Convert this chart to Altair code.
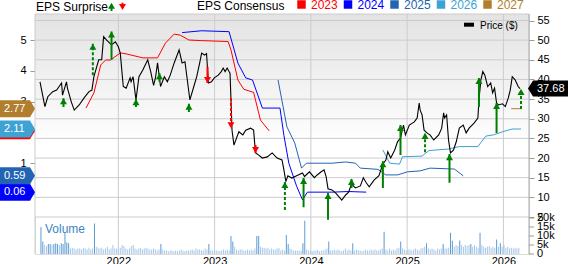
import altair as alt
import pandas as pd

# ---------------- data ----------------
price_points = [
    (2021.186, 39.4), (2021.237, 33.1), (2021.267, 35.6), (2021.318, 36.9), (2021.359, 37.3),
    (2021.410, 39.1), (2021.420, 36.0), (2021.461, 39.4), (2021.471, 37.8), (2021.511, 34.3),
    (2021.542, 32.2), (2021.593, 33.5), (2021.644, 35.3), (2021.695, 36.9), (2021.725, 37.3),
    (2021.746, 40.7), (2021.796, 45.0), (2021.827, 45.0), (2021.847, 50.9), (2021.878, 50.0),
    (2021.908, 49.3), (2021.929, 48.8), (2021.969, 49.6), (2022.000, 48.3), (2022.020, 46.7),
    (2022.051, 38.2), (2022.081, 37.8), (2022.122, 40.4), (2022.132, 39.4), (2022.153, 40.7),
    (2022.183, 34.8), (2022.214, 40.7), (2022.254, 42.4), (2022.305, 45.0), (2022.336, 42.0),
    (2022.366, 38.5), (2022.386, 40.5), (2022.407, 44.2), (2022.438, 38.2), (2022.478, 40.7),
    (2022.509, 39.4), (2022.539, 41.1), (2022.580, 44.2), (2022.631, 47.5), (2022.662, 44.2),
    (2022.692, 44.5), (2022.712, 40.7), (2022.743, 34.8), (2022.784, 38.2), (2022.814, 40.7),
    (2022.845, 44.2), (2022.865, 46.7), (2022.896, 46.2), (2022.916, 46.6), (2022.936, 39.1),
    (2022.967, 39.4), (2022.997, 40.4), (2023.038, 41.1), (2023.069, 42.0), (2023.089, 42.9),
    (2023.109, 42.0), (2023.130, 42.9), (2023.150, 42.0), (2023.160, 41.6), (2023.170, 34.8),
    (2023.181, 27.0), (2023.201, 23.3), (2023.232, 25.4), (2023.252, 26.7), (2023.293, 25.9),
    (2023.323, 27.1), (2023.374, 27.6), (2023.405, 27.1), (2023.425, 21.3), (2023.455, 20.8),
    (2023.496, 20.0), (2023.547, 20.3), (2023.598, 21.3), (2023.649, 20.0), (2023.700, 19.5),
    (2023.720, 17.0), (2023.740, 14.0), (2023.761, 15.5), (2023.802, 14.9), (2023.852, 15.5),
    (2023.913, 16.2), (2023.934, 15.3), (2023.985, 16.5), (2024.036, 15.0), (2024.066, 15.7),
    (2024.107, 16.5), (2024.137, 17.0), (2024.158, 15.3), (2024.178, 12.2), (2024.219, 11.9),
    (2024.259, 11.1), (2024.321, 9.3), (2024.361, 10.6), (2024.392, 11.3), (2024.422, 13.4),
    (2024.463, 12.4), (2024.514, 12.9), (2024.545, 15.0), (2024.575, 13.7), (2024.606, 12.7),
    (2024.656, 14.4), (2024.707, 15.5), (2024.748, 18.5), (2024.779, 19.5), (2024.799, 21.6),
    (2024.829, 20.0), (2024.870, 22.0), (2024.901, 24.2), (2024.931, 25.1), (2024.962, 28.4),
    (2024.982, 25.9), (2025.023, 28.4), (2025.074, 29.2), (2025.104, 30.2), (2025.125, 34.0),
    (2025.135, 32.2), (2025.155, 31.0), (2025.176, 27.1), (2025.206, 26.4), (2025.237, 25.9),
    (2025.277, 24.6), (2025.328, 25.9), (2025.359, 27.6), (2025.379, 31.5), (2025.389, 30.2),
    (2025.410, 31.0), (2025.430, 24.6), (2025.450, 21.3), (2025.481, 22.0), (2025.511, 24.2),
    (2025.542, 27.6), (2025.583, 28.4), (2025.613, 26.4), (2025.644, 27.6), (2025.695, 28.9),
    (2025.735, 30.2), (2025.746, 34.8), (2025.766, 39.9), (2025.786, 42.0), (2025.807, 41.1),
    (2025.837, 38.2), (2025.868, 39.1), (2025.888, 36.6), (2025.908, 37.8), (2025.929, 34.0),
    (2025.949, 33.5), (2025.990, 33.8), (2026.020, 33.1), (2026.051, 35.3), (2026.071, 37.3),
    (2026.092, 40.7), (2026.122, 39.9), (2026.153, 38.2), (2026.173, 37.68),
]

eps_2023 = [(2021.664, 2.79), (2021.746, 3.28), (2021.817, 4.19), (2021.868, 4.35), (2021.919, 4.35),
            (2022.020, 4.58), (2022.081, 4.55), (2022.254, 4.42), (2022.407, 4.42), (2022.489, 4.90),
            (2022.580, 5.19), (2022.641, 5.16), (2022.733, 5.00), (2022.865, 4.98), (2023.140, 4.95),
            (2023.170, 4.68), (2023.242, 3.70), (2023.303, 3.40), (2023.405, 3.30), (2023.476, 2.40),
            (2023.567, 2.05)]
eps_2024 = [(2022.662, 5.24), (2022.865, 5.30), (2023.150, 5.27), (2023.242, 4.25), (2023.323, 3.77),
            (2023.394, 3.70), (2023.496, 2.79), (2023.679, 2.79), (2023.720, 1.90), (2023.771, 1.00),
            (2023.852, 0.25), (2023.913, -0.19), (2023.964, 0.06), (2024.219, 0.06), (2024.392, 0.08),
            (2024.575, 0.06)]
eps_2025 = [(2023.659, 3.70), (2023.751, 2.18), (2023.832, 1.66), (2023.903, 0.84), (2023.954, 1.00),
            (2024.219, 1.00), (2024.361, 1.04), (2024.463, 1.00), (2024.514, 0.84), (2024.697, 0.80),
            (2024.779, 0.62), (2024.901, 0.62), (2025.003, 0.72), (2025.135, 0.75), (2025.237, 0.84),
            (2025.491, 0.81), (2025.583, 0.59)]
eps_2026 = [(2024.748, 1.43), (2024.819, 1.00), (2024.921, 0.97), (2024.952, 1.21), (2025.155, 1.23),
            (2025.226, 1.41), (2025.430, 1.46), (2025.542, 1.54), (2025.735, 1.54), (2025.817, 1.88),
            (2025.898, 1.92), (2025.990, 2.02), (2026.092, 2.11), (2026.183, 2.11)]
eps_2027 = [(2026.081, 2.77), (2026.183, 2.77)]

series_names = ["2023", "2024", "2025", "2026", "2027"]
series_colors = ["#ff0000", "#0000ff", "#2264b2", "#3da2d4", "#b07e2d"]

surprise_year = [2021.430, 2021.735, 2021.929, 2022.183, 2022.427, 2022.733, 2022.926, 2023.170,
                 2023.425, 2023.730, 2023.924, 2024.178, 2024.422, 2024.748, 2024.931, 2025.186,
                 2025.440, 2025.746, 2025.929, 2026.183]
surprise_tip = [35.2, 49.1, 52.2, 35.0, 41.6, 33.8, 39.1, 27.6, 21.3, 13.9, 14.9, 11.1, 14.7, 19.2,
                28.4, 26.4, 21.0, 40.4, 34.0, 37.6]
surprise_base = [33.0, 41.1, 45.0, 33.0, 39.4, 31.7, 43.2, 35.3, 23.3, 6.8, 7.5, 4.3, 12.4, 12.4,
                 20.8, 21.5, 13.7, 33.0, 26.4, 32.5]
surprise_dir = ["up", "up", "up", "up", "up", "up", "down", "down", "down", "up", "up", "up", "up",
                "up", "up", "up", "up", "up", "up", "up"]
surprise_style = ["solid", "dashed", "solid", "solid", "solid", "solid", "solid", "dashed", "solid",
                  "dashed", "solid", "solid", "solid", "solid", "solid", "dashed", "solid", "solid",
                  "solid", "dashed"]

vol_start = 2021.196
vol_k = [
    15, 7, 5, 4.5, 5.5, 5.5, 5, 5.5, 6, 5.5, 5, 6, 5.5, 11.8, 6.5, 6, 3, 3.5, 3, 2.5,
    3, 3, 2.5, 3.5, 3, 2.5, 3.5, 2.5, 3, 17, 4, 3.5, 3, 3.5, 2.5, 3, 4, 2.5, 3, 5,
    3, 3, 2.5, 3.5, 5, 4.5, 3, 2.5, 3, 4.5, 5, 3, 2.5, 3, 3.5, 2.5, 3, 3.5, 3, 2.5,
    2.5, 3, 2.5, 2, 2.5, 5.5, 2.5, 2, 2, 1.5, 2, 2, 1.5, 2, 1.5, 2, 2.5, 2, 1.5, 2,
    2, 2, 2.5, 2, 3, 2.5, 2.5, 2, 2, 3, 2.5, 5.5, 2, 2, 1.5, 2, 2, 1.5, 2, 2.5,
    2, 2.5, 2, 10, 7, 4, 2.5, 2, 2.5, 2.5, 2, 2, 2.5, 2, 2.5, 2, 3, 10, 10, 4,
    3.5, 3.5, 3, 3.5, 2.5, 3, 2.5, 2.5, 3, 3.5, 2, 2.5, 2, 10.5, 5.5, 3, 2.5, 2, 2, 2,
    2, 2, 6, 18.5, 2.5, 2, 2, 1.5, 2, 2, 2.5, 1.5, 2, 2, 2.5, 3, 7, 2, 2, 2.5,
    2, 2.5, 2, 1.5, 2, 3, 2, 2.5, 2, 6, 2, 2.5, 2, 2, 1.5, 2, 2.5, 2, 2, 2.5,
    2, 2.5, 2, 2, 2.5, 3, 12.4, 2.5, 2, 3, 2, 2.5, 2, 3, 3.5, 7, 3, 2.5, 2, 2.5,
    2.5, 2, 2.5, 3, 2.5, 2, 3, 3.5, 4, 6, 3, 2.5, 3, 2.5, 2, 3, 2.5, 3, 5.5, 3,
    3, 3.5, 11.8, 7.4, 4, 5, 4.5, 7.5, 5, 4, 5, 4.5, 5, 5.5, 4, 5, 4, 3.5, 11.8, 5,
    4, 3.5, 4, 4.5, 3.5, 4, 3.5, 8, 4, 6, 4, 5, 3.5, 4, 3, 3.5, 3, 3.5, 3, 3.5,
]

year_ticks = [2022, 2023, 2024, 2025, 2026]
price_ticks = [5, 10, 15, 20, 25, 30, 35, 40, 45, 50, 55]
eps_ticks = [0, 1, 2, 3, 4, 5]
vol_ticks = [0, 5, 10, 15, 20]
vol_tick_labels = ["0", "5k", "10k", "15k", "20k"]
last_price = price_points[-1][1]

# ---------------- tables ----------------
price_df = pd.DataFrame(price_points, columns=["yr", "p"])
eps_rows = []
for name, pts in zip(series_names, [eps_2023, eps_2024, eps_2025, eps_2026, eps_2027]):
    for yr, v in pts:
        eps_rows.append({"yr": yr, "v": v, "s": name})
eps_df = pd.DataFrame(eps_rows)
lab_df = pd.DataFrame({"s": series_names,
                       "v": [pts[-1][1] for pts in [eps_2023, eps_2024, eps_2025, eps_2026, eps_2027]]})
arr_df = pd.DataFrame({"yr": surprise_year, "tip": surprise_tip, "base": surprise_base,
                       "dir": surprise_dir, "style": surprise_style})
vol_df = pd.DataFrame({"yr": [vol_start + i * 7 / 365.25 for i in range(len(vol_k))], "vol": vol_k})
one = pd.DataFrame({"k": [0]})

# ---------------- styling ----------------
FONT = "Liberation Sans"
W, H = 494, 240
GRID = "#cccccc"
GREEN = "#008000"
RED = "#ff0000"

X = alt.Scale(domain=[2021.186, 2026.214], nice=False, zero=False)
XAX = alt.Axis(values=year_ticks, format="d", title=None, grid=False, ticks=False, domain=False,
               labelFontSize=11, labelColor="#000000", labelPadding=1, labelFont=FONT)
PY = alt.Scale(domain=[5, 55], range=[203, 6.5], nice=False, zero=False)
EY = alt.Scale(domain=[0, 5], range=[180, 26], nice=False, zero=False)
VY = alt.Scale(domain=[0, 20], range=[240, 204], nice=False)
SER = alt.Scale(domain=series_names, range=series_colors)
DASH = alt.Scale(domain=["solid", "dashed"], range=[[1, 0], [3, 2]])

def xenc():
    return alt.X("yr:Q", scale=X, axis=XAX)

layers = []

grad = alt.Gradient(gradient="linear",
                    stops=[alt.GradientStop(color="#e3e3e3", offset=0),
                           alt.GradientStop(color="#ffffff", offset=0.65),
                           alt.GradientStop(color="#ffffff", offset=1)],
                    x1=0, x2=0, y1=0, y2=1)
layers.append(alt.Chart(one).mark_rect(fill=grad, strokeWidth=0).encode(
    x=alt.value(0), x2=alt.value(W), y=alt.value(0), y2=alt.value(203)))

# vertical grid + x axis
layers.append(alt.Chart(pd.DataFrame({"yr": year_ticks})).mark_rule(color=GRID, strokeWidth=1).encode(
    x=xenc(), y=alt.value(0), y2=alt.value(H)))

# horizontal grid + price axis
layers.append(alt.Chart(pd.DataFrame({"p": price_ticks})).mark_rule(color=GRID, strokeWidth=1).encode(
    y=alt.Y("p:Q", scale=PY, axis=alt.Axis(orient="right", values=price_ticks, title=None, grid=False,
                                          tickSize=5, tickColor="#999999", domain=False,
                                          labelFontSize=11, labelPadding=3, labelColor="#000000",
                                          labelFont=FONT)),
    x=alt.value(0), x2=alt.value(W)))

# borders
layers.append(alt.Chart(one).mark_rule(color=GRID).encode(x=alt.value(0), x2=alt.value(W), y=alt.value(0)))
layers.append(alt.Chart(one).mark_rule(color=GRID).encode(x=alt.value(0), y=alt.value(0), y2=alt.value(H)))
layers.append(alt.Chart(one).mark_rule(color="#aaaaaa").encode(x=alt.value(W), y=alt.value(0), y2=alt.value(H)))

# volume
layers.append(alt.Chart(vol_df).mark_bar(width=1).encode(
    x=xenc(), y=alt.Y("vol:Q", scale=VY, axis=None),
    color=alt.condition("datum.vol > 5.2", alt.value("#5b9bd5"), alt.value("#a8c8e9"))))
vt_df = pd.DataFrame({"v": vol_ticks, "label": vol_tick_labels})
layers.append(alt.Chart(vt_df).mark_rule(color="#999999").encode(
    y=alt.Y("v:Q", scale=VY, axis=None), x=alt.value(W), x2=alt.value(W + 5)))
layers.append(alt.Chart(vt_df).mark_text(align="left", baseline="middle", fontSize=11, font=FONT,
                                          color="#000000").encode(
    y=alt.Y("v:Q", scale=VY, axis=None), x=alt.value(W + 8), text="label:N"))
layers.append(alt.Chart(one).mark_text(align="left", baseline="middle", fontSize=12, font=FONT,
                                       color="#3d85c6").encode(
    x=alt.value(10), y=alt.value(215), text=alt.value("Volume")))

# consensus lines + EPS axis
layers.append(alt.Chart(eps_df).mark_line(strokeWidth=1).encode(
    x=xenc(),
    y=alt.Y("v:Q", scale=EY, axis=alt.Axis(orient="left", values=eps_ticks, title=None, grid=False,
                                          tickSize=5, tickColor="#999999", domain=False,
                                          labelFontSize=11, labelPadding=4, labelColor="#000000",
                                          labelFont=FONT)),
    color=alt.Color("s:N", scale=SER, legend=None)))

# price line
layers.append(alt.Chart(price_df).mark_line(color="#000000", strokeWidth=1.1).encode(
    x=xenc(), y=alt.Y("p:Q", scale=PY, axis=None)))

# surprise arrows: stems then heads
for d, col, shape, off in [("up", GREEN, "triangle-up", 3), ("down", RED, "triangle-down", -3)]:
    flt = "datum.dir == '%s'" % d
    layers.append(alt.Chart(arr_df).transform_filter(flt).mark_rule(strokeWidth=2, color=col).encode(
        x=xenc(), y=alt.Y("base:Q", scale=PY, axis=None), y2="tip:Q",
        strokeDash=alt.StrokeDash("style:N", scale=DASH, legend=None)))
    layers.append(alt.Chart(arr_df).transform_filter(flt).mark_point(
        shape=shape, filled=True, size=49, yOffset=off, opacity=1, color=col, strokeWidth=0).encode(
        x=xenc(), y=alt.Y("tip:Q", scale=PY, axis=None)))

# EPS value tags on the left
BOX = "M-1,-0.486L0.714,-0.486L1,0L0.714,0.486L-1,0.486Z"
layers.append(alt.Chart(lab_df).mark_point(shape=BOX, filled=True, size=1225, opacity=1, strokeWidth=0).encode(
    x=alt.value(-17.5), y=alt.Y("v:Q", scale=EY, axis=None), color=alt.Color("s:N", scale=SER, legend=None)))
layers.append(alt.Chart(lab_df).transform_filter("datum.s != '2023'").mark_text(
    align="left", baseline="middle", fontSize=11, font=FONT, color="#ffffff").encode(
    x=alt.value(-31), y=alt.Y("v:Q", scale=EY, axis=None), text=alt.Text("v:Q", format=".2f")))

# last price tag
PBOX = "M-1,0L-0.75,-0.4L1,-0.4L1,0.4L-0.75,0.4Z"
lp_df = pd.DataFrame({"p": [last_price]})
layers.append(alt.Chart(lp_df).mark_point(shape=PBOX, filled=True, size=1600, opacity=1, strokeWidth=0,
                                          color="#000000").encode(
    x=alt.value(W - 1 + 20), y=alt.Y("p:Q", scale=PY, axis=None)))
layers.append(alt.Chart(lp_df).mark_text(align="left", baseline="middle", fontSize=11, font=FONT,
                                         color="#ffffff").encode(
    x=alt.value(W + 8), y=alt.Y("p:Q", scale=PY, axis=None), text=alt.Text("p:Q", format=".2f")))

# header
layers.append(alt.Chart(one).mark_text(align="left", baseline="alphabetic", fontSize=12, font=FONT,
                                       color="#000000").encode(
    x=alt.value(1), y=alt.value(-3), text=alt.value("EPS Surprise")))
layers.append(alt.Chart(one).mark_rule(color=GREEN, strokeWidth=2).encode(
    x=alt.value(76.5), y=alt.value(-9), y2=alt.value(-3)))
layers.append(alt.Chart(one).mark_point(shape="triangle-up", filled=True, size=49, opacity=1, color=GREEN,
                                        strokeWidth=0).encode(x=alt.value(76.5), y=alt.value(-8.3)))
layers.append(alt.Chart(one).mark_rule(color=RED, strokeWidth=2).encode(
    x=alt.value(87.5), y=alt.value(-11.3), y2=alt.value(-6)))
layers.append(alt.Chart(one).mark_point(shape="triangle-down", filled=True, size=49, opacity=1, color=RED,
                                        strokeWidth=0).encode(x=alt.value(87.5), y=alt.value(-7)))
layers.append(alt.Chart(one).mark_text(align="left", baseline="alphabetic", fontSize=12, font=FONT,
                                       color="#000000").encode(
    x=alt.value(162), y=alt.value(-4.5), text=alt.value("EPS Consensus")))
for i, (name, col) in enumerate(zip(series_names, series_colors)):
    layers.append(alt.Chart(one).mark_square(size=72, filled=True, opacity=1, color=col).encode(
        x=alt.value(266.5 + 46.5 * i), y=alt.value(-9.5)))
    layers.append(alt.Chart(one).mark_text(align="left", baseline="alphabetic", fontSize=12, font=FONT,
                                           color=col).encode(
        x=alt.value(276 + 46.5 * i), y=alt.value(-5), text=alt.value(name)))

# price legend
layers.append(alt.Chart(one).mark_rule(color="#000000", strokeWidth=4).encode(
    x=alt.value(429), x2=alt.value(439), y=alt.value(10.7)))
layers.append(alt.Chart(one).mark_text(align="left", baseline="middle", fontSize=10, font=FONT,
                                       color="#000000").encode(
    x=alt.value(445), y=alt.value(11.5), text=alt.value("Price ($)")))

chart = alt.layer(*layers).resolve_scale(y="independent", color="independent").properties(
    width=W, height=H,
    padding={"left": 35, "top": 14, "right": 39, "bottom": 10},
    autosize=alt.AutoSizeParams(type="none"),
    background="#ffffff",
).configure_view(stroke=None).configure(font=FONT)

chart.save("out.html", embed_options={"renderer": "svg", "actions": False})
